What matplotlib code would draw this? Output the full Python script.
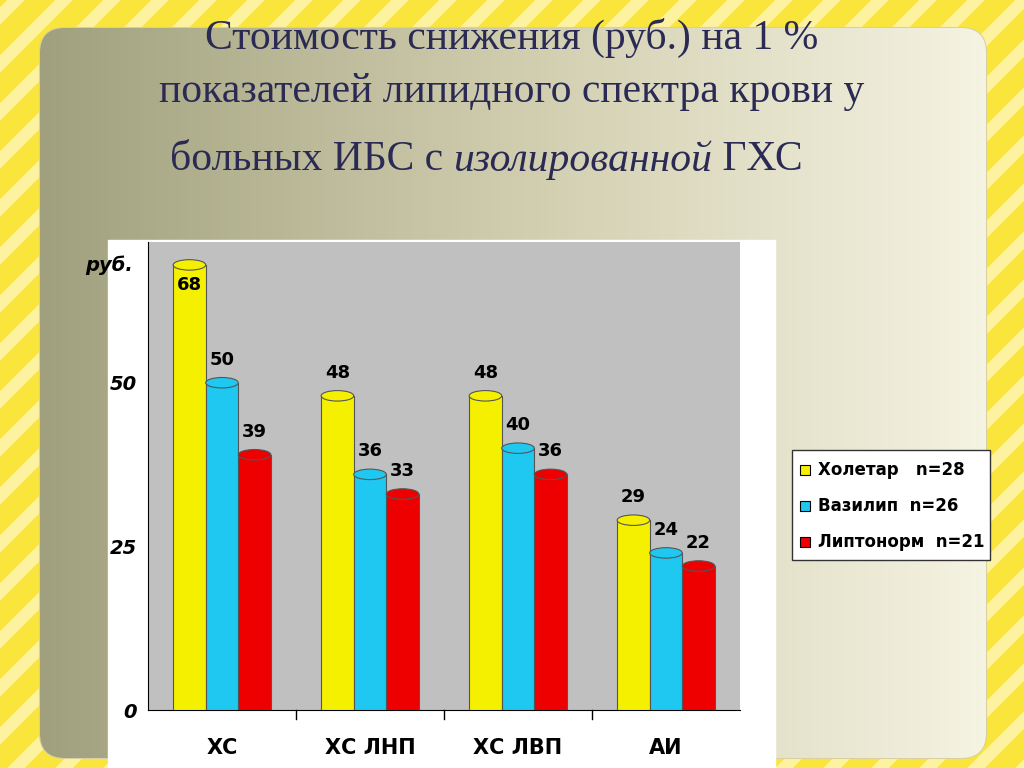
import numpy as np
import matplotlib.pyplot as plt
from matplotlib.patches import FancyBboxPatch, Ellipse, Rectangle

categories = ['ХС', 'ХС ЛНП', 'ХС ЛВП', 'АИ']
holetar = [68, 48, 48, 29]
vazilip = [50, 36, 40, 24]
liptonorm = [39, 33, 36, 22]
series_names = ['Холетар   n=28', 'Вазилип  n=26', 'Липтонорм  n=21']
colors = ['#f5f000', '#1ec8f0', '#ee0000']

fig = plt.figure(figsize=(10.24, 7.68), dpi=100)

# slide background with diagonal stripes
bg = fig.add_axes([0, 0, 1, 1])
bg.set_xlim(0, 1024)
bg.set_ylim(768, 0)
bg.axis('off')
bg.add_patch(Rectangle((0, 0), 1024, 768, color='#f9e53c', zorder=0))
for s in np.arange(-800, 1100, 48):
    bg.plot([s, s + 800], [768, -32], color='#fdf2a0', lw=9, zorder=1)

panel = FancyBboxPatch((40, 28), 946, 730, boxstyle='round,pad=0,rounding_size=25',
                       fc='none', ec='#d8d0a0', lw=1.5, zorder=2)
bg.add_patch(panel)
grad = np.linspace(0, 1, 256)[None, :]
cmap = plt.matplotlib.colors.LinearSegmentedColormap.from_list(
    'p', ['#a0a07e', '#d0cdae', '#f5f3e2'])
im = bg.imshow(grad, extent=(40, 986, 758, 28), cmap=cmap, aspect='auto', zorder=2)
im.set_clip_path(panel)

bg.add_patch(Rectangle((108, 240), 667, 528, color='white', zorder=3))
bg.add_patch(Rectangle((792, 450), 198, 110, fc='white', ec='#333333', lw=1, zorder=3))

tkw = dict(fontsize=30, family='Liberation Serif', color='#2a2a55', zorder=4)
bg.text(512, 38, 'Стоимость снижения (руб.) на 1 %', ha='center', va='center', **tkw)
bg.text(512, 92, 'показателей липидного спектра крови у', ha='center', va='center', **tkw)
t1 = bg.text(170, 160, 'больных ИБС с ', ha='left', va='center', **tkw)
t2 = bg.annotate('изолированной', xy=(1, 0.5), xycoords=t1, ha='left', va='center',
                 style='italic', **tkw)
bg.annotate(' ГХС', xy=(1, 0.5), xycoords=t2, ha='left', va='center', **tkw)

# legend
for i, (name, c) in enumerate(zip(series_names, colors)):
    y = 470 + i * 36
    bg.add_patch(Rectangle((800, y - 5), 10, 10, fc=c, ec='black', lw=0.8, zorder=4))
    bg.text(818, y, name, va='center', fontsize=12, fontweight='bold', zorder=4)

ax = fig.add_axes([148 / 1024, 58 / 768, 592 / 1024, 468 / 768])
ax.set_facecolor('#c0c0c0')
ax.set_xlim(-0.5, 3.5)
ax.set_ylim(0, 71.5)
x = np.arange(len(categories))
w = 0.22
for j, (vals, c) in enumerate(zip([holetar, vazilip, liptonorm], colors)):
    xs = x + (j - 1) * w
    ax.bar(xs, vals, w, color=c, edgecolor='#555555', lw=0.8, zorder=3)
    for xi, v in zip(xs, vals):
        ax.add_patch(Ellipse((xi, v), w, 1.6, fc=c, ec='#555555', lw=0.8, zorder=4))
        ly = v + 3.5 if v + 5 < 71.5 else v - 3
        ax.text(xi, ly, str(v), ha='center', va='center',
                fontsize=13, fontweight='bold', zorder=5)
ax.set_xticks(x)
ax.set_xticklabels(categories, fontsize=15, fontweight='bold')
ax.tick_params(axis='x', pad=20, length=0)
ax.set_yticks([0, 25, 50])
ax.set_yticklabels(['0', '25', '50'], fontsize=14, fontweight='bold', style='italic')
ax.tick_params(axis='y', length=0, pad=8)
for xv in [0.5, 1.5, 2.5]:
    ax.axvline(xv, ymin=-0.02, ymax=0, color='black', lw=1, clip_on=False)
ax.spines['top'].set_visible(False)
ax.spines['right'].set_visible(False)
ax.text(-0.6, 68, 'руб.', ha='right', va='center', fontsize=14,
        fontweight='bold', style='italic')

fig.savefig('out.png', dpi=100)
